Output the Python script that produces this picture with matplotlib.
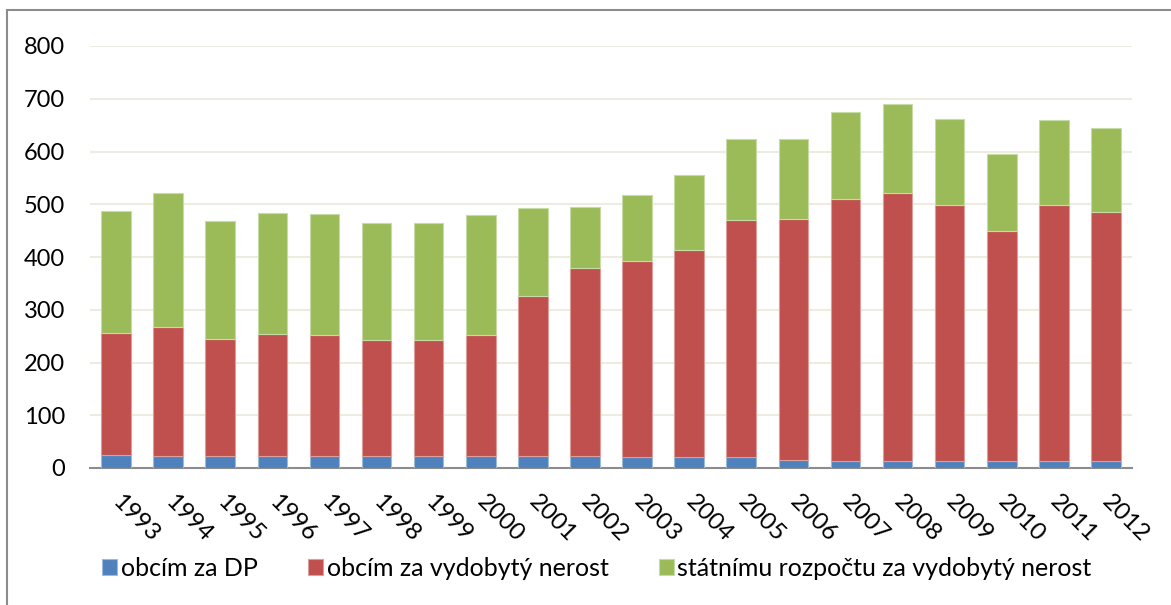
import numpy as np
import matplotlib.pyplot as plt
from matplotlib.patches import Rectangle

years = [str(y) for y in range(1993, 2013)]

# values
obce_dp = [25, 22, 23, 23, 23, 22, 23, 23, 23, 22,
           21, 21, 21, 16, 14, 14, 14, 13, 13, 13]
obce_nerost = [231, 245, 222, 231, 229, 221, 220, 229, 303, 357,
               372, 393, 449, 456, 496, 507, 485, 436, 485, 472]
stat_nerost = [231, 255, 223, 229, 229, 221, 221, 228, 166, 115,
               125, 141, 153, 152, 165, 169, 162, 147, 162, 159]

labels = ['obcím za DP', 'obcím za vydobytý nerost',
          'státnímu rozpočtu za vydobytý nerost']
colors = ['#4F81BD', '#C0504D', '#9BBB59']
edges = ['#9DB9DC', '#DC9E9C', '#C7DBA6']

plt.rcParams['font.family'] = ['Lato', 'DejaVu Sans']

W, H = 1171, 605
fig = plt.figure(figsize=(W / 100, H / 100), dpi=100)
ax = fig.add_axes([90 / W, 1 - 468 / H, (1132 - 90) / W, (468 - 46) / H])

x = np.arange(len(years))
bottom = np.zeros(len(years))
for vals, lab, c, ec in zip([obce_dp, obce_nerost, stat_nerost], labels, colors, edges):
    ax.bar(x, vals, width=0.57, bottom=bottom, color=c, edgecolor=ec,
           linewidth=0.8, label=lab, zorder=3)
    bottom += np.array(vals)

ax.set_xlim(-0.5, len(years) - 0.5)
ax.set_ylim(0, 800)
ax.set_yticks(range(0, 801, 100))
ax.yaxis.grid(True, color='#EEECE1', linewidth=1.5, zorder=0)
ax.tick_params(axis='y', length=0, pad=18, labelsize=17)
ax.tick_params(axis='x', length=0, pad=22, labelsize=17.5)
ax.set_xticks(x)
ax.set_xticklabels(years, rotation=-45, ha='left', va='center',
                   rotation_mode='anchor')

for s in ['top', 'right', 'left']:
    ax.spines[s].set_visible(False)
ax.spines['bottom'].set_color('#8C8C8C')
ax.spines['bottom'].set_linewidth(1.5)

fig.legend(loc='center', bbox_to_anchor=(597 / W, 1 - 568 / H), ncol=3,
           frameon=False, fontsize=18, handlelength=0.6, handleheight=0.6,
           handletextpad=0.15, columnspacing=2.0)

# chart border (only top and left edges fall inside the picture)
fig.add_artist(Rectangle((7 / W, -0.5), 2, 1.5 - 10 / H, fill=False,
                         edgecolor='#8C8C8C', linewidth=1.5,
                         transform=fig.transFigure))

fig.savefig('out.png', dpi=100)
